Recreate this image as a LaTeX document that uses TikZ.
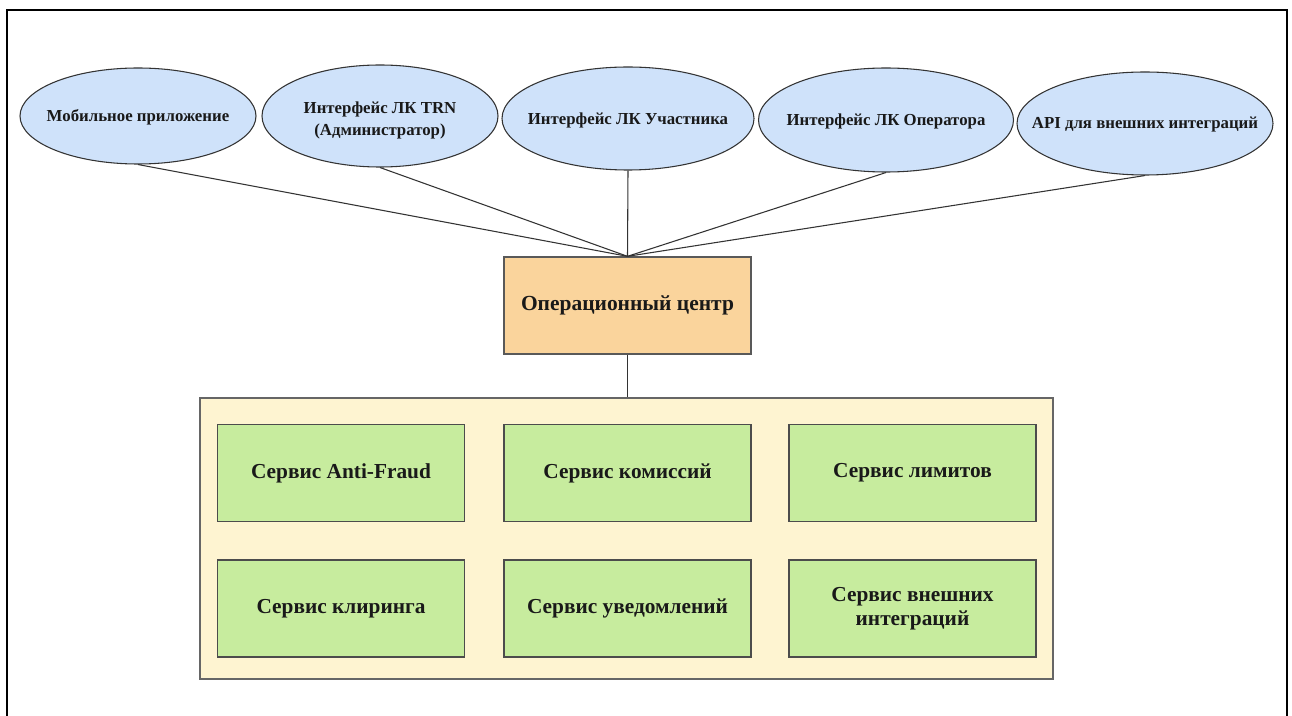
\documentclass[tikz,border=0pt]{standalone}
\usepackage{fontspec}
\setmainfont{Liberation Serif}[BoldFont={Liberation Serif Bold}]
\usetikzlibrary{shapes.geometric}
\definecolor{ellblue}{HTML}{CFE2FA}
\definecolor{opcol}{HTML}{FAD49C}
\definecolor{contcol}{HTML}{FEF4D1}
\definecolor{srvcol}{HTML}{C7EC9E}
\definecolor{edgecol}{HTML}{333333}
\begin{document}
\begin{tikzpicture}[x=0.75pt,y=-0.75pt,
  ell/.style={ellipse, draw=edgecol, line width=0.8pt, fill=ellblue, inner sep=0pt},
  elltext/.style={font=\rmfamily\bfseries\fontsize{12.6}{16.2}\selectfont, align=center, text=black!90, inner sep=0pt},
  opbox/.style={rectangle, draw=black!65, line width=1pt, fill=opcol, inner sep=0pt,
    minimum width=247*0.75pt, minimum height=97*0.75pt,
    font=\rmfamily\bfseries\fontsize{16.1}{18}\selectfont, align=center, text=black!90},
  contbox/.style={rectangle, draw=black!60, line width=1.1pt, fill=contcol, inner sep=0pt,
    minimum width=853*0.75pt, minimum height=281*0.75pt},
  srv/.style={rectangle, draw=black!70, line width=1.1pt, fill=srvcol, inner sep=0pt,
    minimum width=247*0.75pt, minimum height=97*0.75pt,
    font=\rmfamily\bfseries\fontsize{16}{18.2}\selectfont, align=center, text=black!90},
  conn/.style={draw=edgecol, line width=0.8pt}
]
\useasboundingbox (0,0) rectangle (1292,716);
\fill[white] (0,0) rectangle (1292,716);
\draw[line width=1.5pt] (7,716) -- (7,10) -- (1287,10) -- (1287,716);

% ellipses
\node[ell, minimum width=236*0.75pt, minimum height=96*0.75pt] (mob) at (138,116) {};
\node[elltext] (mobt) at ([yshift=-1.5*0.75pt]mob.center) {Мобильное приложение};
\node[ell, minimum width=236*0.75pt, minimum height=102*0.75pt] (trn) at (380,116) {};
\node[elltext] (trnt) at ([yshift=-4.5*0.75pt]trn.center) {Интерфейс ЛК TRN\\(Администратор)};
\node[ell, minimum width=252*0.75pt, minimum height=103*0.75pt] (uch) at (628,118.5) {};
\node[elltext] (ucht) at ([yshift=-1.5*0.75pt]uch.center) {Интерфейс ЛК Участника};
\node[ell, minimum width=255*0.75pt, minimum height=104*0.75pt] (opr) at (886,120) {};
\node[elltext] (oprt) at ([yshift=-1.5*0.75pt]opr.center) {Интерфейс ЛК Оператора};
\node[ell, minimum width=256*0.75pt, minimum height=103*0.75pt] (api) at (1145,123.5) {};
\node[elltext] (apit) at ([yshift=-1*0.75pt]api.center) {API для внешних интеграций};

% operational center
\node[opbox] (opc) at (627.5,305.5) {Операционный центр};

% container
\node[contbox] (cont) at (626.5,538.5) {};

% services
\node[srv] (s1) at (341,473) {Сервис Anti-Fraud};
\node[srv] (s2) at (627.5,473) {Сервис комиссий};
\node[srv] (s3) at (912.5,473) {Сервис лимитов};
\node[srv] (s4) at (341,608.5) {Сервис клиринга};
\node[srv] (s5) at (627.5,608.5) {Сервис уведомлений};
\node[srv] (s6) at (912.5,608.5) {Сервис внешних\\интеграций};

% connectors
\foreach \e in {mob,trn,uch,opr,api}
  \draw[conn] (\e.south) -- (opc.north);
\draw[conn] (opc.south) -- (opc.south |- cont.north);
\end{tikzpicture}
\end{document}
